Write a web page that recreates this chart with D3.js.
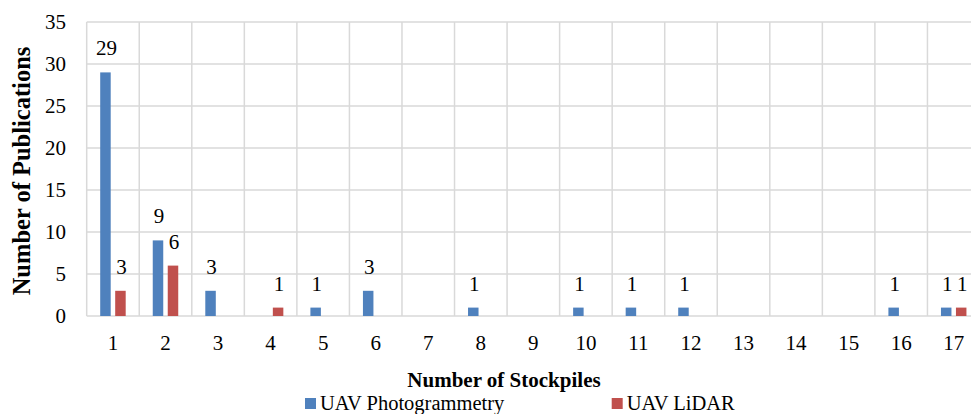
<!DOCTYPE html>
<html>
<head>
<meta charset="utf-8">
<script src="https://cdn.jsdelivr.net/npm/d3@7"></script>
<style>
  html, body { margin: 0; padding: 0; background: #fff; }
  svg text { font-family: 'Times New Roman', 'Liberation Serif', Tinos, 'DejaVu Serif', serif; }
</style>
</head>
<body>
<svg id="chart" width="971" height="414"></svg>
<script>
// Publications per number of stockpiles surveyed, by UAV sensing method
const stockpiles = ["1","2","3","4","5","6","7","8","9","10","11","12","13","14","15","16","17"];
const seriesNames = ["UAV Photogrammetry", "UAV LiDAR"];
const photogrammetry = [29, 9, 3, 0, 1, 3, 0, 1, 0, 1, 1, 1, 0, 0, 0, 1, 1];
const lidar          = [3, 6, 0, 1, 0, 0, 0, 0, 0, 0, 0, 0, 0, 0, 0, 0, 1];
const yTicks = [0, 5, 10, 15, 20, 25, 30, 35];
const colors = ["#4f81bd", "#c0504d"];

const seriesValues = [photogrammetry, lidar];
const serif = "'Times New Roman', 'Liberation Serif', Tinos, 'DejaVu Serif', serif";

const svg = d3.select("#chart");
const plot = { left: 86.7, right: 980, top: 22, bottom: 316 };

const x0 = d3.scaleBand().domain(stockpiles).range([plot.left, plot.right]).padding(0);
const x1 = d3.scaleBand().domain(seriesNames)
  .range([x0.bandwidth() * 0.257, x0.bandwidth() * 0.742]).paddingInner(0.3);
const y = d3.scaleLinear().domain([0, 35]).range([plot.bottom, plot.top]);

const grid = svg.append("g").attr("stroke", "#d9d9d9").attr("stroke-width", 1.5);
// horizontal gridlines
grid.selectAll("line.h").data(yTicks).join("line")
  .attr("class", "h")
  .attr("x1", plot.left).attr("x2", plot.right)
  .attr("y1", d => y(d)).attr("y2", d => y(d));
// vertical gridlines at category boundaries
const bounds = stockpiles.map(s => x0(s)).concat([x0(stockpiles[stockpiles.length - 1]) + x0.bandwidth()]);
grid.selectAll("line.v").data(bounds).join("line")
  .attr("class", "v")
  .attr("x1", d => d).attr("x2", d => d)
  .attr("y1", plot.top).attr("y2", plot.bottom);

// y axis tick labels
const yAxis = d3.axisLeft(y).tickValues(yTicks).tickSize(0).tickPadding(0);
const yG = svg.append("g").attr("transform", `translate(66,0)`).call(yAxis)
  .attr("font-family", serif).attr("font-size", 21);
yG.select(".domain").remove();
yG.selectAll("text").attr("fill", "#000");

// x axis tick labels
const xAxis = d3.axisBottom(x0).tickSize(0).tickPadding(0);
const xG = svg.append("g").attr("transform", `translate(0,${plot.bottom})`).call(xAxis)
  .attr("font-family", serif).attr("font-size", 21);
xG.select(".domain").remove();
xG.selectAll("text").attr("fill", "#000").attr("dy", null).attr("y", 34);

// bars
const rows = [];
stockpiles.forEach((s, i) => {
  seriesNames.forEach((name, k) => {
    rows.push({ stockpile: s, series: name, k, value: seriesValues[k][i] });
  });
});
const nonZero = rows.filter(d => d.value > 0);

svg.append("g").selectAll("rect").data(nonZero).join("rect")
  .attr("x", d => x0(d.stockpile) + x1(d.series))
  .attr("width", x1.bandwidth())
  .attr("y", d => y(d.value))
  .attr("height", d => y(0) - y(d.value))
  .attr("fill", d => colors[d.k]);

// value labels
svg.append("g").attr("font-family", serif).selectAll("text").data(nonZero).join("text")
  .attr("x", d => x0(d.stockpile) + x1(d.series) + x1.bandwidth() / 2 + 1)
  .attr("y", d => y(d.value) - 17)
  .attr("text-anchor", "middle")
  .attr("font-size", 21)
  .attr("fill", "#000")
  .text(d => d.value);

// axis titles
svg.append("text")
  .attr("x", 504).attr("y", 386.5)
  .attr("text-anchor", "middle")
  .attr("font-family", serif)
  .attr("font-size", 21).attr("font-weight", "bold")
  .text("Number of Stockpiles");

svg.append("text")
  .attr("transform", "translate(30,171) rotate(-90)")
  .attr("text-anchor", "middle")
  .attr("font-family", serif)
  .attr("font-size", 24.5).attr("font-weight", "bold")
  .text("Number of Publications");

// legend
const legendX = [305, 611.7];
const legend = svg.append("g").attr("font-family", serif).selectAll("g").data(seriesNames).join("g")
  .attr("transform", (d, i) => `translate(${legendX[i]},398)`);
legend.append("rect").attr("width", 11).attr("height", 11).attr("fill", (d, i) => colors[i]);
legend.append("text").attr("x", 15).attr("y", 11.5).attr("font-size", 20.5).attr("fill", "#000").text(d => d);
</script>
</body>
</html>
